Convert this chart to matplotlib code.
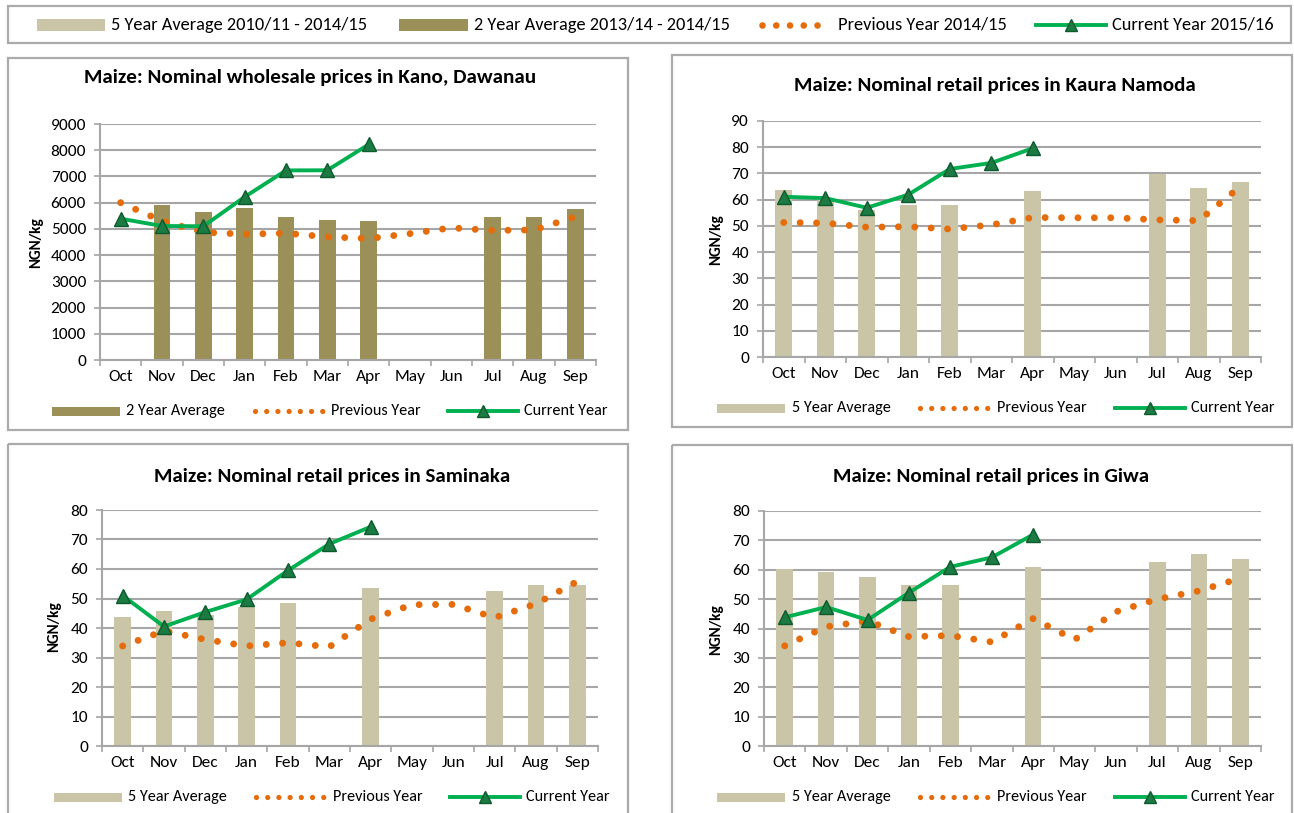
import numpy as np
import matplotlib
matplotlib.use('Agg')
import matplotlib.pyplot as plt
from matplotlib import font_manager
from matplotlib.lines import Line2D
from matplotlib.patches import Rectangle

avail = {f.name for f in font_manager.fontManager.ttflist}
FONT = next(f for f in ['Carlito', 'Liberation Sans Narrow', 'Lato', 'DejaVu Sans'] if f in avail)
plt.rcParams['font.family'] = FONT

nan = np.nan
months = ['Oct', 'Nov', 'Dec', 'Jan', 'Feb', 'Mar', 'Apr', 'May', 'Jun', 'Jul', 'Aug', 'Sep']

# Kano, Dawanau (wholesale)
kano_2yr = [nan, 5900, 5650, 5800, 5470, 5340, 5300, nan, nan, 5470, 5470, 5740]
kano_prev = [6000, 5300, 4870, 4800, 4835, 4695, 4630, 4820, 5040, 4940, 4960, 5465]
kano_curr = [5390, 5110, 5100, 6220, 7230, 7235, 8220]

# Kaura Namoda (retail)
kaura_5yr = [63.5, 60.5, 56.0, 58.0, 58.0, nan, 63.3, nan, nan, 69.8, 64.4, 66.7]
kaura_prev = [51.3, 51.1, 49.5, 49.7, 48.8, 50.4, 53.2, 53.1, 53.1, 52.3, 52.0, 65.0]
kaura_curr = [61.1, 60.6, 56.9, 61.9, 71.7, 74.0, 79.6]

# Saminaka (retail)
sami_5yr = [43.6, 45.8, 44.5, 47.2, 48.5, nan, 53.7, nan, nan, 52.6, 54.7, 54.7]
sami_prev = [33.9, 39.0, 36.1, 33.9, 35.0, 33.6, 43.0, 47.9, 48.0, 43.5, 48.2, 55.8]
sami_curr = [51.0, 40.5, 45.4, 49.7, 59.5, 68.5, 74.3]

# Giwa (retail)
giwa_5yr = [60.1, 59.2, 57.7, 54.7, 54.7, nan, 61.1, nan, nan, 62.6, 65.5, 63.8]
giwa_prev = [34.1, 40.6, 42.6, 37.2, 37.6, 35.4, 43.4, 36.2, 45.7, 50.0, 52.8, 57.1]
giwa_curr = [43.8, 47.3, 42.9, 52.2, 61.0, 64.2, 72.0]

C5 = '#CBC5A7'
C2 = '#9C9059'
ORANGE = '#E46C0A'
GREEN = '#00B050'
TRI = '#1C7A43'
TRI_E = '#0D5A2C'
GRID = '#A6A6A6'
BOX = '#ABABAB'

W, H = 1294, 813
fig = plt.figure(figsize=(W / 100, H / 100), dpi=100)

ov = fig.add_axes([0, 0, 1, 1], zorder=0)
ov.set_xlim(0, W)
ov.set_ylim(H, 0)
ov.axis('off')

DOT_LW = 5.0


def dots(x0, x1, y, spacing_px, lw):
    gap = spacing_px / (lw * 100 / 72)
    ov.add_line(Line2D([x0, x1 + 1.0], [y, y], color=ORANGE, lw=lw,
                       linestyle=(0, (0.001, gap)), dash_capstyle='round'))


def tri_line(x0, x1, y):
    ov.add_line(Line2D([x0, x1], [y, y], color=GREEN, lw=2.8))
    ov.add_line(Line2D([(x0 + x1) / 2], [y], marker='^', ms=9, mfc=TRI, mec=TRI_E, lw=0))


def patch(x0, x1, y, h, color):
    ov.add_patch(Rectangle((x0, y - h / 2), x1 - x0, h, color=color, lw=0))


def label(x, y, s, size):
    ov.text(x, y, s, ha='left', va='center', fontsize=size, color='#000000')


# ---- top legend ----
ov.add_patch(Rectangle((8, 6), 1283, 37, fill=False, ec=BOX, lw=1.6))
LY = 25
TOPF = 13.2
patch(37, 105, LY, 12, C5)
label(111, LY, '5 Year Average 2010/11 - 2014/15', TOPF)
patch(399, 468, LY, 12, C2)
label(474, LY, '2 Year Average 2013/14 - 2014/15', TOPF)
dots(762, 817, LY, 13.75, 4.8)
label(838, LY, 'Previous Year 2014/15', TOPF)
tri_line(1036, 1106, LY)
label(1112, LY, 'Current Year 2015/16', TOPF)


def panel(box, ax_px, title, title_xy, ylabel_xy, avg, avg_color, avg_label,
          prev, curr, ymax, ystep, leg_y, leg_x):
    bx0, by0, bx1, by1 = box
    ov.add_patch(Rectangle((bx0, by0), bx1 - bx0, by1 - by0, fill=False, ec=BOX, lw=1.6))
    l, t, r, b = ax_px
    ax = fig.add_axes([l / W, 1 - b / H, (r - l) / W, (b - t) / H], zorder=1)
    ax.set_facecolor('none')
    x = np.arange(len(months))
    ax.bar(x, avg, width=0.4, color=avg_color, zorder=2)
    ax.plot(x, prev, color=ORANGE, lw=DOT_LW,
            linestyle=(0, (0.001, 16.4 / (DOT_LW * 100 / 72))),
            dash_capstyle='round', zorder=3)
    ax.plot(x[:len(curr)], curr, color=GREEN, lw=2.8, marker='^', ms=9.5,
            mfc=TRI, mec=TRI_E, zorder=4)
    ax.set_xlim(-0.5, len(months) - 0.5)
    ax.set_ylim(0, ymax)
    ax.set_yticks(np.arange(0, ymax + 1, ystep))
    ax.yaxis.grid(True, color=GRID, lw=1.5)
    ax.set_axisbelow(True)
    for s in ['top', 'right']:
        ax.spines[s].set_visible(False)
    for s in ['left', 'bottom']:
        ax.spines[s].set_color(GRID)
        ax.spines[s].set_linewidth(1.5)
    ax.set_xticks(np.arange(-0.5, len(months), 1))
    ax.set_xticklabels([])
    ax.set_xticks(x, minor=True)
    ax.set_xticklabels(months, minor=True)
    ax.tick_params(axis='x', which='major', length=4, width=1.2, color=GRID, direction='out')
    ax.tick_params(axis='x', which='minor', length=0, pad=7, labelsize=12.5)
    ax.tick_params(axis='y', length=4, width=1.2, color=GRID, pad=6, labelsize=12.5)
    ov.text(title_xy[0], title_xy[1], title, ha='center', va='center',
            fontsize=15.2, fontweight='bold')
    ov.text(ylabel_xy[0], ylabel_xy[1], 'NGN/kg', ha='center', va='center',
            rotation=90, fontsize=11, fontweight='bold')
    # panel legend
    px0, tx0, dx0, tx1, lx0, tx2 = leg_x
    patch(px0, px0 + 68, leg_y, 9, avg_color)
    label(tx0, leg_y, avg_label, 11.7)
    dots(dx0, dx0 + 67, leg_y, 11.2, 3.8)
    label(tx1, leg_y, 'Previous Year', 11.7)
    tri_line(lx0, lx0 + 70, leg_y)
    label(tx2, leg_y, 'Current Year', 11.7)
    return ax


panel((8, 58, 628, 430), (100, 124, 596, 360),
      'Maize: Nominal wholesale prices in Kano, Dawanau', (310, 77), (36, 243),
      kano_2yr, C2, '2 Year Average', kano_prev, kano_curr, 9000, 1000,
      411, (52, 126, 255, 331, 448, 524))

panel((672, 55, 1292, 427), (763, 121, 1261, 357),
      'Maize: Nominal retail prices in Kaura Namoda', (995, 86), (716, 240),
      kaura_5yr, C5, '5 Year Average', kaura_prev, kaura_curr, 90, 10,
      408, (717, 792, 920, 997, 1115, 1191))

panel((8, 444, 628, 830), (102, 510, 598, 746),
      'Maize: Nominal retail prices in Saminaka', (332, 476), (54, 627),
      sami_5yr, C5, '5 Year Average', sami_prev, sami_curr, 80, 10,
      797, (54, 128, 256, 333, 450, 526))

panel((672, 445, 1292, 830), (764, 511, 1261, 746),
      'Maize: Nominal retail prices in Giwa', (991, 476), (716, 630),
      giwa_5yr, C5, '5 Year Average', giwa_prev, giwa_curr, 80, 10,
      797, (717, 792, 920, 997, 1115, 1191))

fig.savefig('out.png', dpi=100, facecolor='white')
